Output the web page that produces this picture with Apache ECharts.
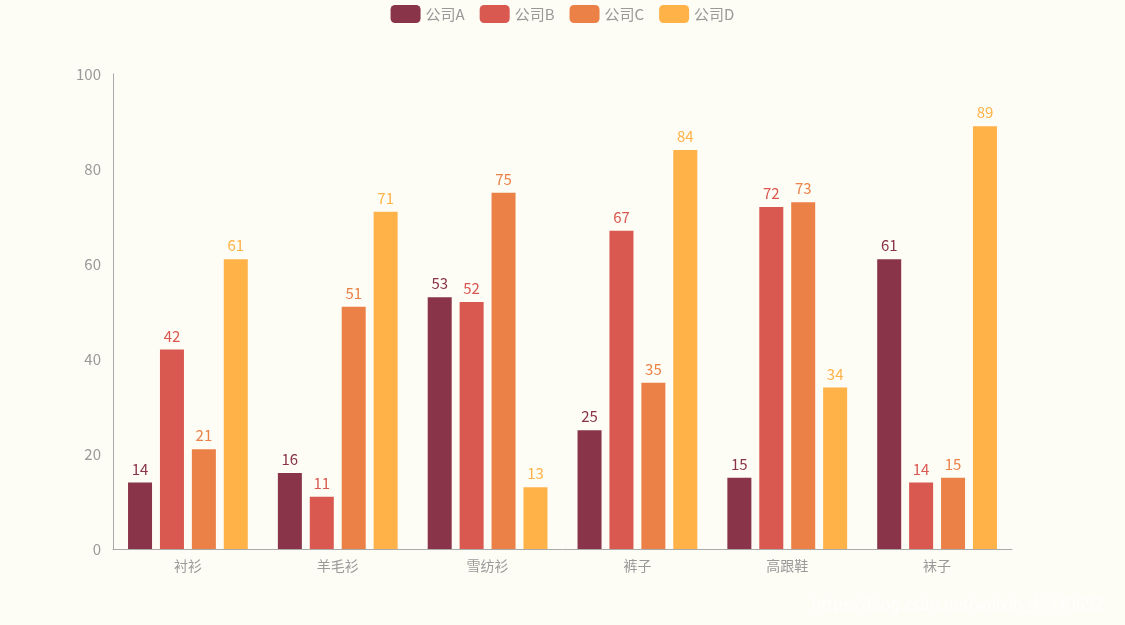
<!DOCTYPE html>
<html><head><meta charset="utf-8">
<script src="https://cdn.jsdelivr.net/npm/echarts@6/dist/echarts.min.js"></script>
<style>html,body{margin:0;padding:0;background:#fdfcf5}#c{width:1125px;height:625px}</style>
</head><body><div id="c"></div>
<script>
const categories = ['衬衫','羊毛衫','雪纺衫','裤子','高跟鞋','袜子'];
const seriesNames = ['公司A','公司B','公司C','公司D'];
const dataA = [14,16,53,25,15,61];
const dataB = [42,11,52,67,72,14];
const dataC = [21,51,75,35,73,15];
const dataD = [61,71,13,84,34,89];
const colors = ['#893448','#d95850','#eb8146','#ffb248'];
const allData = [dataA,dataB,dataC,dataD];
const font = '"Noto Sans CJK SC", sans-serif';
const chart = echarts.init(document.getElementById('c'));
chart.setOption({
  backgroundColor:'#fdfcf5',
  color: colors,
  textStyle:{fontFamily:font},
  legend:{top:0,itemWidth:30,itemHeight:18,itemGap:15,icon:'roundRect',
    textStyle:{color:'#999',fontSize:15,fontFamily:font}},
  grid:{left:113,right:113,top:74,bottom:76},
  xAxis:{type:'category',data:categories,
    axisLine:{lineStyle:{color:'#aaa'}},axisTick:{show:false},
    axisLabel:{color:'#999',fontSize:14,margin:10,fontFamily:font}},
  yAxis:{type:'value',min:0,max:100,interval:20,
    axisLine:{show:true,lineStyle:{color:'#aaa'}},axisTick:{show:false},
    splitLine:{show:false},
    axisLabel:{color:'#999',fontSize:15,margin:12,fontFamily:font}},
  series: allData.map((d,i)=>({
    name:seriesNames[i],type:'bar',data:d,barWidth:24,barGap:'33%',
    label:{show:true,position:'top',distance:6,color:colors[i],fontSize:15,fontFamily:font}
  })),
  graphic:[{type:'text',right:22,bottom:12,style:{text:'https://blog.csdn.net/weixin_44440652',
    fill:'rgba(255,255,255,0.9)',font:'16px "Noto Sans", sans-serif'}}]
});
</script></body></html>
